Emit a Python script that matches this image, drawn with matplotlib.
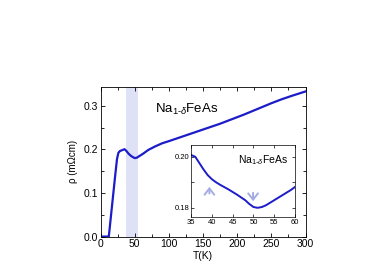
import matplotlib
matplotlib.use("Agg")
import matplotlib.pyplot as plt
from matplotlib.ticker import MultipleLocator, FormatStrFormatter

plt.rcParams["font.family"] = ["Liberation Sans", "DejaVu Sans"]
plt.rcParams["mathtext.fontset"] = "custom"
plt.rcParams["mathtext.rm"] = "Liberation Sans"
plt.rcParams["mathtext.it"] = "Liberation Sans:italic"

# ---- data ----
temp = [0, 5, 10, 12, 15, 18, 21, 24, 26, 28, 31, 35, 38, 41, 45, 50, 53, 57, 62, 70,
        80, 90, 100, 115, 130, 145, 160, 175, 190, 210, 230, 250, 265, 280, 290, 300]
rho = [0.0, 0.0, 0.0, 0.0, 0.045, 0.09, 0.135, 0.178, 0.192, 0.196, 0.198, 0.2005, 0.196, 0.190, 0.1845, 0.180, 0.181, 0.185, 0.190, 0.199,
       0.207, 0.214, 0.219, 0.227, 0.235, 0.243, 0.251, 0.259, 0.268, 0.280, 0.293, 0.306, 0.315, 0.323, 0.328, 0.333]

t_zoom = [35, 36, 37, 38, 39, 40, 41, 42, 44, 46, 48, 49, 50, 51, 52, 53, 55, 57, 59, 60]
rho_zoom = [0.2007, 0.2000, 0.1975, 0.1950, 0.1928, 0.1912, 0.1900, 0.1890, 0.1872, 0.1852, 0.1830,
            0.1815, 0.1803, 0.1800, 0.1803, 0.1810, 0.1830, 0.1850, 0.1870, 0.1882]

band = (37, 55)
blue = "#1c1cc8"
shade = "#dfe1f6"
arrow_c = "#a5ace4"
label = r"Na$_{\mathrm{1\text{-}}\delta}$FeAs"

fig = plt.figure(figsize=(3.74, 2.80), dpi=100)

# main axes
ax = fig.add_axes([0.269, 0.155, 0.548, 0.534])
ax.axvspan(band[0], band[1], color=shade, lw=0)
ax.plot(temp, rho, color=blue, lw=1.6)
ax.set_xlim(0, 300)
ax.set_ylim(0, 0.343)
ax.xaxis.set_major_locator(MultipleLocator(50))
ax.xaxis.set_minor_locator(MultipleLocator(25))
ax.yaxis.set_major_locator(MultipleLocator(0.1))
ax.yaxis.set_minor_locator(MultipleLocator(0.05))
ax.yaxis.set_major_formatter(FormatStrFormatter("%.1f"))
ax.tick_params(which="both", direction="in", top=True, right=True, labelsize=7.5, pad=2)
ax.tick_params(which="major", length=3, width=0.6)
ax.tick_params(which="minor", length=2, width=0.6)
for s in ax.spines.values():
    s.set_linewidth(0.6)
ax.set_xlabel("T(K)", fontsize=7.5, labelpad=1)
ax.set_ylabel("ρ (mΩcm)", fontsize=7, labelpad=4)
ax.text(80, 0.283, label, fontsize=9.5)

# inset
ins = fig.add_axes([0.511, 0.225, 0.278, 0.257])
ins.plot(t_zoom, rho_zoom, color=blue, lw=1.4)
ins.set_xlim(35, 60)
ins.set_ylim(0.1764, 0.2046)
ins.xaxis.set_major_locator(MultipleLocator(5))
ins.yaxis.set_major_locator(MultipleLocator(0.02))
ins.yaxis.set_minor_locator(MultipleLocator(0.01))
ins.tick_params(which="both", direction="in", top=True, right=True, labelsize=5.5, pad=1.5)
ins.tick_params(which="both", length=2.5, width=0.5)
for s in ins.spines.values():
    s.set_linewidth(0.5)
ins.text(46.3, 0.1975, label, fontsize=7.5)
arr = dict(arrowstyle="->,head_width=0.35,head_length=0.45", color=arrow_c, lw=1.4)
ins.annotate("", xy=(39.4, 0.1893), xytext=(39.4, 0.1845), arrowprops=arr)
ins.annotate("", xy=(49.9, 0.1815), xytext=(49.9, 0.1870), arrowprops=arr)

fig.savefig("out.png", dpi=100)
